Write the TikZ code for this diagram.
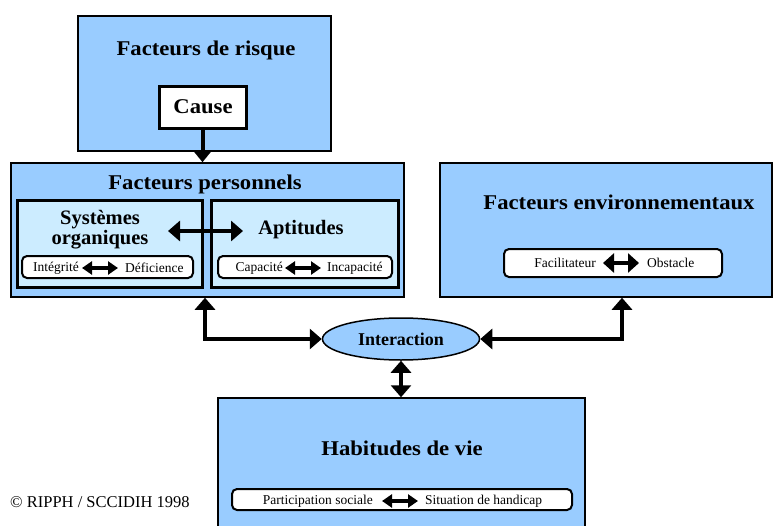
\documentclass[tikz,border=0pt]{standalone}
\usepackage{fontspec}
\setmainfont{Liberation Serif}
\newfontfamily\widefont{Liberation Serif}[FakeStretch=1.08]
\usetikzlibrary{arrows.meta,shapes.geometric}
\definecolor{skyfill}{HTML}{99CCFF}
\definecolor{paleblue}{HTML}{CCECFF}

\begin{document}
\begin{tikzpicture}[x=1pt,y=-1pt,
  outerbox/.style={draw=black,line width=1.5pt,fill=skyfill,inner sep=0pt},
  innerbox/.style={draw=black,line width=3pt,fill=paleblue,inner sep=0pt},
  causebox/.style={draw=black,line width=3pt,fill=white,inner sep=0pt},
  pill/.style={draw=black,line width=2pt,fill=white,rounded corners=5pt,inner sep=0pt},
  bigtitle/.style={font=\widefont\fontsize{21}{24}\selectfont\bfseries,inner sep=0pt},
  midtitle/.style={font=\fontsize{20.5}{20}\selectfont\bfseries,align=center,inner sep=0pt},
  smalltext/.style={font=\fontsize{13.5}{15}\selectfont,inner sep=1pt},
  link/.style={line width=4pt,-{Triangle[width=17pt,length=11pt]}},
  biglink/.style={line width=4pt,{Triangle[width=20pt,length=12pt]}-{Triangle[width=20pt,length=12pt]}},
  tinylink/.style={line width=3.5pt,{Triangle[width=13pt,length=10pt]}-{Triangle[width=13pt,length=10pt]}},
  envlink/.style={line width=4.5pt,{Triangle[width=19pt,length=11pt]}-{Triangle[width=19pt,length=11pt]}},
]
\useasboundingbox (0,0) rectangle (774,525);

% --- Facteurs de risque ---
\node[outerbox,minimum width=253pt,minimum height=135pt] (risk) at (204.5,83.5) {};
\node[bigtitle] (risktitle) at (206,50) {Facteurs de risque};
\node[causebox,minimum width=87pt,minimum height=42pt] (cause) at (202.5,107) {};
\node[bigtitle] (causetxt) at (203,107) {Cause};

% --- Facteurs personnels ---
\node[outerbox,minimum width=393pt,minimum height=134pt] (pers) at (207.5,230) {};
\node[bigtitle] (perstitle) at (205,184) {Facteurs personnels};

\node[innerbox,minimum width=185pt,minimum height=87pt] (sys) at (109.5,243.5) {};
\node[midtitle] (systxt) at (100,230) {Systèmes\\organiques};
\node[pill,minimum width=171pt,minimum height=22pt] (syspill) at (107.5,267) {};
\node[smalltext,anchor=east] (integ) at (80,268) {Intégrité};
\node[smalltext,anchor=west] (defic) at (124,268) {Déficience};
\draw[tinylink,shorten <=2pt,shorten >=6pt] (integ.east) -- (defic.west);

\node[innerbox,minimum width=187pt,minimum height=87pt] (apt) at (304.5,243.5) {};
\node[midtitle] (apttxt) at (301,230) {Aptitudes};
\node[pill,minimum width=174pt,minimum height=22pt] (aptpill) at (305,267) {};
\node[smalltext,anchor=east] (capa) at (284,268) {Capacité};
\node[smalltext,anchor=west] (incapa) at (326,268) {Incapacité};
\draw[tinylink,shorten <=1pt,shorten >=5pt] (capa.east) -- (incapa.west);

\coordinate (sysend) at (168,231);
\coordinate (aptend) at (243,231);
\draw[biglink] (sysend) -- (aptend);

% --- Facteurs environnementaux ---
\node[outerbox,minimum width=332pt,minimum height=134pt] (env) at (606,230) {};
\node[bigtitle] (envtitle) at (619,202) {Facteurs environnementaux};
\node[pill,minimum width=218pt,minimum height=28pt] (envpill) at (613,263) {};
\node[smalltext,anchor=east] (facil) at (597,263) {Facilitateur};
\node[smalltext,anchor=west] (obst) at (646,263) {Obstacle};
\draw[envlink,shorten <=6pt,shorten >=7pt] (facil.east) -- (obst.west);

% --- Habitudes de vie ---
\node[outerbox,minimum width=367pt,minimum height=140pt] (habit) at (401.5,468) {};
\node[bigtitle] (habtitle) at (402,448) {Habitudes de vie};
\node[pill,minimum width=340pt,minimum height=21pt] (habpill) at (402,499.5) {};
\node[smalltext,anchor=east] (partic) at (374,501) {Participation sociale};
\node[smalltext,anchor=west] (situ) at (424,501) {Situation de handicap};
\draw[tinylink,shorten <=8pt,shorten >=6pt] (partic.east) -- (situ.west);

% --- Interaction ---
\node[ellipse,draw=black,line width=1.5pt,fill=skyfill,minimum width=157pt,minimum height=42pt,inner sep=0pt,
      font=\fontsize{18}{18}\selectfont\bfseries] (inter) at (401,339) {Interaction};

% --- connectors ---
\draw[link] (cause.south) -- (cause.south |- pers.north);
\coordinate (lcorner) at (205,339);
\coordinate (rcorner) at (622,339);
\draw[biglink] (lcorner |- pers.south) -- (lcorner) -- (inter.west);
\draw[biglink] (rcorner |- env.south) -- (rcorner) -- (inter.east);
\draw[biglink] (inter.south) -- (inter.south |- habit.north);

% --- copyright ---
\node[font=\fontsize{16.5}{17}\selectfont,anchor=west,inner sep=0pt] (copy) at (10,502) {© RIPPH / SCCIDIH 1998};
\end{tikzpicture}
\end{document}
